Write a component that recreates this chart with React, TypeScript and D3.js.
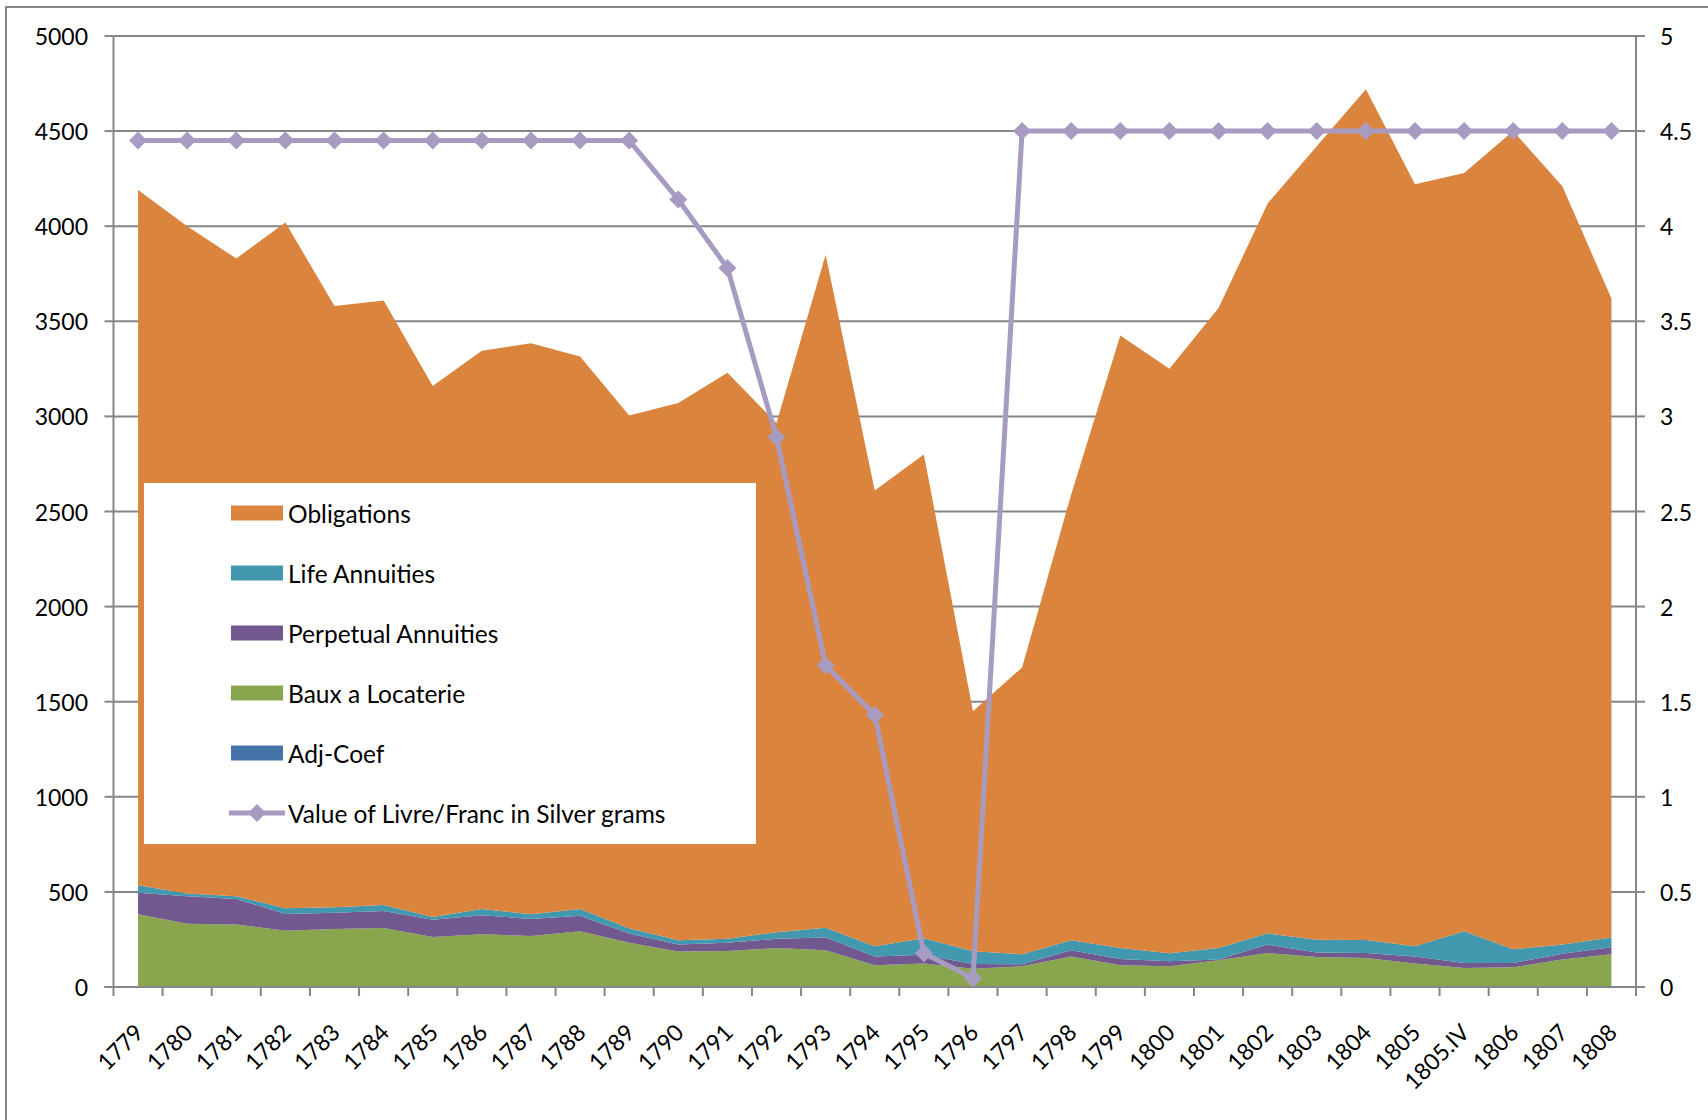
import React from "react";
import * as d3 from "d3";

const categories = [
  "1779","1780","1781","1782","1783","1784","1785","1786","1787","1788",
  "1789","1790","1791","1792","1793","1794","1795","1796","1797","1798",
  "1799","1800","1801","1802","1803","1804","1805","1805.IV","1806","1807","1808",
];

const adjCoef = [
  0,0,0,0,0,0,0,0,0,0,0,0,0,0,0,0,0,0,0,0,0,0,0,0,0,0,0,0,0,0,0,
];
const bauxALocaterie = [
  382,333,328,296,305,310,263,277,268,293,
  232,186,189,205,193,114,123,96,109,161,
  114,109,140,179,158,153,123,100,104,144,172,
];
const perpetualAnnuities = [
  114,144,135,88,86,90,91,100,90,81,
  49,37,43,49,67,47,47,25,10,32,
  33,26,4,44,24,26,38,26,22,31,37,
];
const lifeAnnuities = [
  39,14,14,30,28,31,14,33,24,36,
  28,23,22,34,52,53,86,67,53,53,
  58,42,61,59,67,68,53,167,72,48,51,
];
const obligations = [
  3655,3509,3353,3606,3161,3179,2792,2935,3003,2905,
  2696,2824,2976,2677,3538,2396,2544,1262,1508,2344,
  3220,3073,3365,3838,4171,4473,4006,3987,4302,3987,3360,
];
const silverValue = [
  4.45,4.45,4.45,4.45,4.45,4.45,4.45,4.45,4.45,4.45,
  4.45,4.14,3.78,2.89,1.69,1.43,0.177,0.046,4.5,4.5,
  4.5,4.5,4.5,4.5,4.5,4.5,4.5,4.5,4.5,4.5,4.5,
];

const leftTicks = [0,500,1000,1500,2000,2500,3000,3500,4000,4500,5000];
const rightTicks = [0,0.5,1,1.5,2,2.5,3,3.5,4,4.5,5];

const seriesKeys = ["adj","baux","perp","life","oblig"];
const seriesColors: Record<string,string> = {
  oblig: "#DB843D",
  life: "#4198AF",
  perp: "#71588F",
  baux: "#89A54E",
  adj: "#4572A7",
};
const legendItems = [
  { key: "oblig", label: "Obligations" },
  { key: "life", label: "Life Annuities" },
  { key: "perp", label: "Perpetual Annuities" },
  { key: "baux", label: "Baux a Locaterie" },
  { key: "adj", label: "Adj-Coef" },
];
const lineLabel = "Value of Livre/Franc in Silver grams";
const lineColor = "#A89BC2";
const gridColor = "#868686";
const FONT = "Lato, 'Open Sans', sans-serif";

export default function App() {
  const W = 1708, H = 1120;
  const left = 113.5, right = 1636, top = 36, bottom = 987;

  const x = d3.scaleBand<string>().domain(categories).range([left, right]).padding(0);
  const bw = x.bandwidth();
  const cx = (c: string) => (x(c) as number) + bw / 2;
  const y = d3.scaleLinear().domain([0, 5000]).range([bottom, top]);
  const y2 = d3.scaleLinear().domain([0, 5]).range([bottom, top]);

  const rows = categories.map((c, i) => ({
    cat: c,
    adj: adjCoef[i],
    baux: bauxALocaterie[i],
    perp: perpetualAnnuities[i],
    life: lifeAnnuities[i],
    oblig: obligations[i],
  }));
  const stacked = d3.stack<any>().keys(seriesKeys)(rows);
  const area = d3
    .area<any>()
    .x((d) => cx(d.data.cat))
    .y0((d) => y(d[0]))
    .y1((d) => y(d[1]));

  const line = d3
    .line<number>()
    .x((_, i) => cx(categories[i]))
    .y((d) => y2(d));

  const diamond = (px: number, py: number, r = 9) =>
    `M${px},${py - r}L${px + r},${py}L${px},${py + r}L${px - r},${py}Z`;

  const bandEdges = categories.map((c) => x(c) as number).concat([right]);

  const legX = 144, legY = 483, legW = 612, legH = 361;
  const rowY0 = 513, rowStep = 60;

  return (
    <svg
      width={W}
      height={H}
      style={{ position: "absolute", left: 0, top: 0, background: "#fff" }}
      fontFamily={FONT}
    >
      <rect x={0} y={0} width={W} height={H} fill="#fff" />
      <rect x={6} y={7} width={W + 20} height={H + 20} fill="none" stroke={gridColor} strokeWidth={2} />

      {/* gridlines */}
      {leftTicks.map((t) => (
        <line key={"g" + t} x1={left} x2={right} y1={y(t)} y2={y(t)} stroke={gridColor} strokeWidth={2} />
      ))}

      {/* stacked areas */}
      {stacked.map((s) => (
        <path key={s.key} d={area(s) as string} fill={seriesColors[s.key]} />
      ))}

      {/* axes */}
      <line x1={left} x2={left} y1={top} y2={bottom} stroke={gridColor} strokeWidth={2} />
      <line x1={right} x2={right} y1={top} y2={bottom} stroke={gridColor} strokeWidth={2} />
      <line x1={left - 9} x2={right + 9} y1={bottom} y2={bottom} stroke={gridColor} strokeWidth={2} />
      {leftTicks.map((t) => (
        <g key={"l" + t}>
          <line x1={left - 9} x2={left} y1={y(t)} y2={y(t)} stroke={gridColor} strokeWidth={2} />
          <text x={88} y={y(t)} textAnchor="end" dominantBaseline="central" fontSize={23} fill="#000">
            {t}
          </text>
        </g>
      ))}
      {rightTicks.map((t) => (
        <g key={"r" + t}>
          <line x1={right} x2={right + 9} y1={y2(t)} y2={y2(t)} stroke={gridColor} strokeWidth={2} />
          <text x={1660} y={y2(t)} textAnchor="start" dominantBaseline="central" fontSize={23} fill="#000">
            {String(t)}
          </text>
        </g>
      ))}
      {bandEdges.map((e, i) => (
        <line key={"t" + i} x1={e} x2={e} y1={bottom} y2={bottom + 9} stroke={gridColor} strokeWidth={2} />
      ))}
      {categories.map((c) => (
        <text
          key={"x" + c}
          transform={`translate(${cx(c) + 7},${1034}) rotate(-45)`}
          textAnchor="end"
          fontSize={23}
          fill="#000"
        >
          {c}
        </text>
      ))}

      {/* line series */}
      <path d={line(silverValue) as string} fill="none" stroke={lineColor} strokeWidth={5} strokeLinejoin="round" />
      {silverValue.map((v, i) => (
        <path key={"m" + i} d={diamond(cx(categories[i]), y2(v))} fill={lineColor} />
      ))}

      {/* legend */}
      <rect x={legX} y={legY} width={legW} height={legH} fill="#fff" />
      {legendItems.map((it, i) => (
        <g key={it.key}>
          <rect x={231} y={rowY0 + i * rowStep - 7.5} width={52} height={15} fill={seriesColors[it.key]} />
          <text x={288} y={rowY0 + i * rowStep} dominantBaseline="central" fontSize={24.5} fill="#000">
            {it.label}
          </text>
        </g>
      ))}
      <g>
        <line x1={229} x2={285} y1={rowY0 + 5 * rowStep} y2={rowY0 + 5 * rowStep} stroke={lineColor} strokeWidth={5} />
        <path d={diamond(257, rowY0 + 5 * rowStep)} fill={lineColor} />
        <text x={288} y={rowY0 + 5 * rowStep} dominantBaseline="central" fontSize={24.5} fill="#000">
          {lineLabel}
        </text>
      </g>
    </svg>
  );
}
